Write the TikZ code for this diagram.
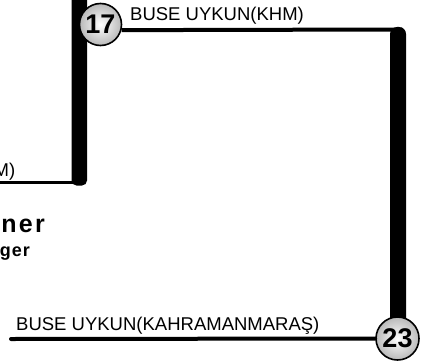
\documentclass[tikz,border=0pt]{standalone}
\usepackage{fontspec}
\setmainfont{Liberation Sans}
\begin{document}
\begin{tikzpicture}[x=1pt,y=-1pt,
  lbl/.style={inner sep=0pt, font=\fontsize{18.5}{20}\selectfont},
  boldlbl/.style 2 args={inner sep=0pt, font=\bfseries\fontsize{#1}{#1}\selectfont\addfontfeature{LetterSpace=#2}},
  numc/.style={circle, draw=black, line width=1.6pt, inner sep=0pt, minimum size=#1,
    inner color=white, outer color=gray!55, font=\bfseries\fontsize{27}{27}\selectfont},
  conn/.style={line width=4pt},
  bar/.style={fill=black}]
\useasboundingbox (0,0) rectangle (430,361);
% thick bars
\fill[bar, rounded corners=5pt] (71.5,-20) rectangle (87,185.5);
\fill[bar, rounded corners=7pt] (390,27) rectangle (406,345);
% coordinates
\coordinate (tr) at (402,29.5);
\coordinate (bl) at (11,339);
\coordinate (ml) at (-5,182.5);
\coordinate (lb) at (80,182.5);
% nodes
\node[numc=42pt] (n17) at (100.5,24.5) {17};
\node[numc=43pt] (n23) at (397.5,338.5) {23};
% connectors
\draw[conn] (n17.-15) -- (tr);
\draw[conn, line cap=round] (bl) -- (n23.west);
\draw[line width=3pt] (ml) -- (lb);
% texts
\node[lbl, anchor=base west] (t1) at (130,20.5) {BUSE UYKUN(KHM)};
\node[lbl, anchor=base west] (t2) at (16,330) {BUSE UYKUN(KAHRAMANMARAŞ)};
\node[lbl, anchor=base east] (t3) at (15.5,176) {M)};
\node[boldlbl={25}{9}, anchor=base east] (t4) at (45,232) {ner};
\node[boldlbl={18}{5}, anchor=base east] (t5) at (30,256) {ger};
\end{tikzpicture}
\end{document}
